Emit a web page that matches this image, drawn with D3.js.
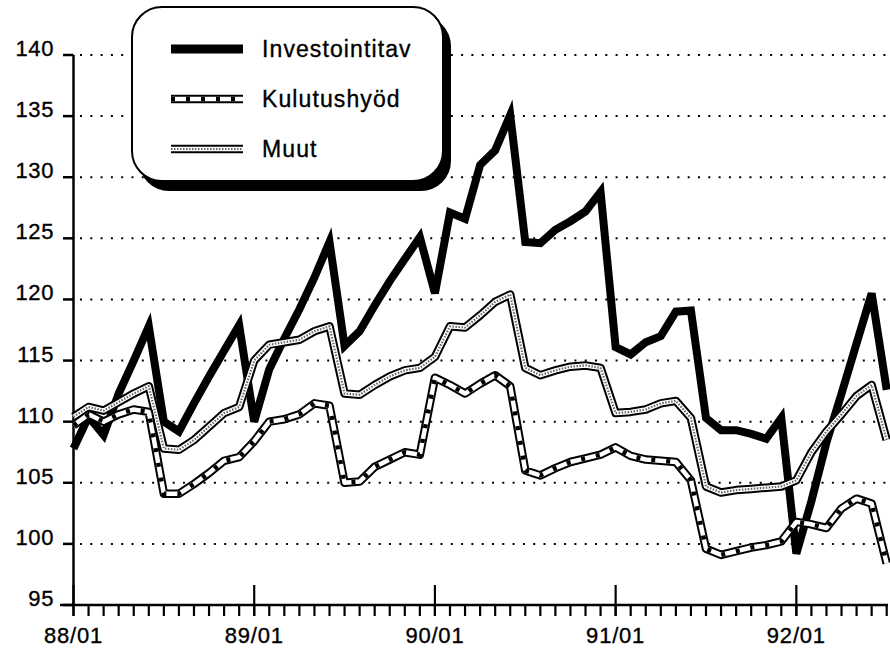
<!DOCTYPE html>
<html>
<head>
<meta charset="utf-8">
<script src="https://cdn.jsdelivr.net/npm/d3@7"></script>
<style>
body{margin:0;background:#fff;}
text{font-family:"Liberation Sans",Arial,Helvetica,sans-serif;fill:#000;stroke:#000;stroke-width:0.35px;}
</style>
</head>
<body>
<div id="chart"></div>
<script>
// kuukaudet 88/01 - 92/07
var months = [
 "88/01","88/02","88/03","88/04","88/05","88/06","88/07","88/08","88/09","88/10","88/11","88/12",
 "89/01","89/02","89/03","89/04","89/05","89/06","89/07","89/08","89/09","89/10","89/11","89/12",
 "90/01","90/02","90/03","90/04","90/05","90/06","90/07","90/08","90/09","90/10","90/11","90/12",
 "91/01","91/02","91/03","91/04","91/05","91/06","91/07","91/08","91/09","91/10","91/11","91/12",
 "92/01","92/02","92/03","92/04","92/05","92/06","92/07"
];
var xTickLabels = ["88/01","89/01","90/01","91/01","92/01"];
var yTicks = [95,100,105,110,115,120,125,130,135,140];
var gridValues = [100,105,110,115,120,125,130,135,140];

var investointitav = [
 107.8,110.4,108.9,112.3,115.0,117.8, 110.0,109.2,111.5,113.7,115.8,117.9,
 110.0,114.3,116.8,119.2,121.8,124.7, 116.2,117.4,119.5,121.5,123.3,125.1,
 120.5,127.1,126.6,131.0,132.2,135.1, 124.7,124.6,125.7,126.4,127.2,128.8,
 116.1,115.5,116.5,117.0,119.0,119.1, 110.3,109.3,109.3,109.0,108.6,110.3,
 99.2,103.5,108.3,112.3,116.4,120.5,112.6
];
var kulutushyod = [
 109.7,110.6,110.0,110.6,111.0,110.8, 104.1,104.1,104.9,105.8,106.8,107.1,
 108.4,110.0,110.2,110.6,111.5,111.3, 105.0,105.1,106.3,106.9,107.5,107.3,
 113.6,113.0,112.3,113.1,113.8,112.9, 106.0,105.6,106.2,106.7,107.0,107.3,
 107.9,107.2,106.9,106.8,106.7,105.2, 99.6,99.1,99.4,99.7,99.9,100.2,
 101.8,101.6,101.3,102.9,103.7,103.3,98.4
];
var muut = [
 110.4,111.2,110.9,111.6,112.3,112.9, 107.8,107.7,108.5,109.6,110.7,111.2,
 115.0,116.3,116.5,116.7,117.4,117.8, 112.3,112.2,113.0,113.7,114.2,114.4,
 115.3,117.8,117.7,118.7,119.8,120.4, 114.4,113.8,114.2,114.5,114.6,114.4,
 110.7,110.8,111.0,111.5,111.7,110.3, 104.7,104.2,104.4,104.5,104.6,104.7,
 105.2,107.5,109.2,110.6,112.1,113.0,108.5
];
var seriesNames = ["Investointitav","Kulutushyöd","Muut"];

var W = 890, H = 653;
var svg = d3.select('#chart').append('svg').attr('width',W).attr('height',H);

var x = d3.scaleLinear().domain([0,months.length-1]).range([73.5,886.7]);
var y = d3.scaleLinear().domain([95,140]).range([605,55]);

// pisteviivat
svg.append('g').selectAll('line').data(gridValues).enter().append('line')
    .attr('x1',80).attr('x2',890)
    .attr('y1',d=>y(d)).attr('y2',d=>y(d))
    .attr('stroke','#000').attr('stroke-width',2)
    .attr('stroke-dasharray','2,8.3');

// y-akseli
svg.append('line').attr('x1',73.5).attr('x2',73.5).attr('y1',y(140)).attr('y2',y(95))
    .attr('stroke','#000').attr('stroke-width',2.5);
svg.append('g').selectAll('line').data(yTicks).enter().append('line')
    .attr('x1',63).attr('x2',73.5).attr('y1',d=>y(d)).attr('y2',d=>y(d))
    .attr('stroke','#000').attr('stroke-width',2.5);
svg.append('g').selectAll('text').data(yTicks).enter().append('text')
    .attr('x',54).attr('y',d=>y(d)+1)
    .attr('text-anchor','end').attr('font-size','22px').attr('letter-spacing','0.6px')
    .text(d=>d);

// x-akseli
svg.append('line').attr('x1',60).attr('x2',888).attr('y1',y(95)).attr('y2',y(95))
    .attr('stroke','#000').attr('stroke-width',2.5);
svg.append('g').selectAll('line').data(months).enter().append('line')
    .attr('x1',(d,i)=>x(i)).attr('x2',(d,i)=>x(i))
    .attr('y1',y(95)).attr('y2',y(95)+11)
    .attr('stroke','#000').attr('stroke-width',2.2);
svg.append('g').selectAll('line').data(xTickLabels).enter().append('line')
    .attr('x1',d=>x(months.indexOf(d))).attr('x2',d=>x(months.indexOf(d)))
    .attr('y1',y(95)-20).attr('y2',y(95)+11)
    .attr('stroke','#000').attr('stroke-width',2.2);
svg.append('g').selectAll('text').data(xTickLabels).enter().append('text')
    .attr('x',d=>x(months.indexOf(d))).attr('y',643)
    .attr('text-anchor','middle').attr('font-size','22px').attr('letter-spacing','0.8px')
    .text(d=>d);

var line = d3.line().x((d,i)=>x(i)).y(d=>y(d));

function drawInvest(g, path) {
    g.append('path').attr('d',path).attr('fill','none')
        .attr('stroke','#000').attr('stroke-width',8).attr('stroke-linejoin','miter');
}
function drawKulut(g, path) {
    g.append('path').attr('d',path).attr('fill','none')
        .attr('stroke','#000').attr('stroke-width',8.5).attr('stroke-linejoin','round');
    g.append('path').attr('d',path).attr('fill','none')
        .attr('stroke','#fff').attr('stroke-width',4.5).attr('stroke-linejoin','round');
    g.append('path').attr('d',path).attr('fill','none')
        .attr('stroke','#000').attr('stroke-width',4.5).attr('stroke-dasharray','4,11');
}
function drawMuut(g, path) {
    g.append('path').attr('d',path).attr('fill','none')
        .attr('stroke','#000').attr('stroke-width',8.5).attr('stroke-linejoin','round');
    g.append('path').attr('d',path).attr('fill','none')
        .attr('stroke','#fff').attr('stroke-width',4.5).attr('stroke-linejoin','round');
    g.append('path').attr('d',path).attr('fill','none')
        .attr('stroke','#666').attr('stroke-width',2.2).attr('stroke-dasharray','1.5,1.5');
}

var lines = svg.append('g');
drawInvest(lines, line(investointitav));
drawMuut(lines, line(muut));
drawKulut(lines, line(kulutushyod));

// selite
var leg = svg.append('g');
leg.append('rect').attr('x',139).attr('y',16).attr('width',312).attr('height',175)
    .attr('rx',30).attr('ry',30).attr('fill','#000');
leg.append('rect').attr('x',132).attr('y',7).attr('width',311).attr('height',174)
    .attr('rx',30).attr('ry',30).attr('fill','#fff')
    .attr('stroke','#000').attr('stroke-width',2);

var legY = [49,99,149];
var drawers = [drawInvest, drawKulut, drawMuut];
seriesNames.forEach(function(name,i){
    var p = d3.line()([[171,legY[i]],[243,legY[i]]]);
    if(i===0){
        leg.append('path').attr('d',p).attr('stroke','#000').attr('stroke-width',9);
    } else {
        drawers[i](leg, p);
    }
    leg.append('text').attr('x',262).attr('y',legY[i]).attr('dy','0.36em')
        .attr('font-size','23px').attr('letter-spacing','1.1px').text(name);
});
</script>
</body>
</html>
